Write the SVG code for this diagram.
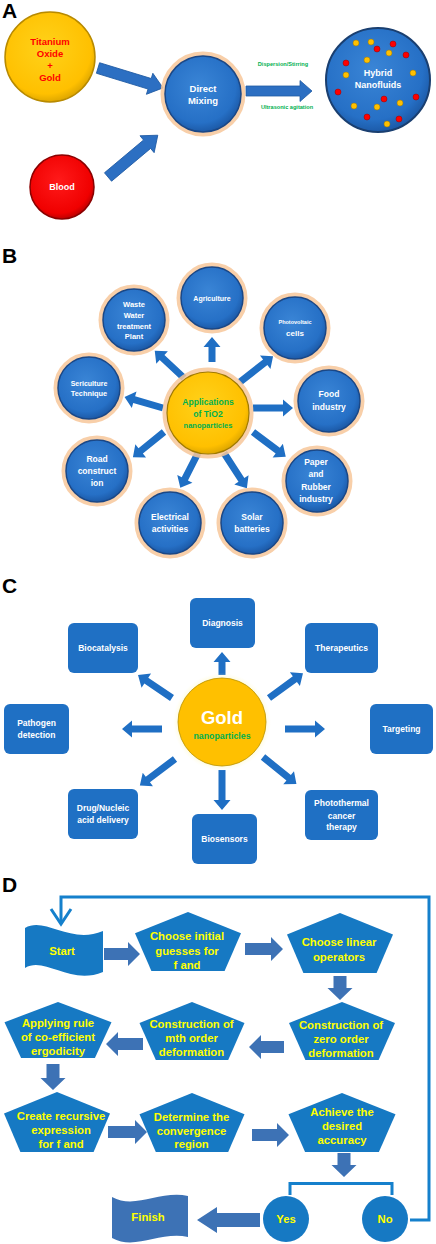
<svg xmlns="http://www.w3.org/2000/svg" width="436" height="1244" viewBox="0 0 436 1244">
<defs>
<radialGradient id="gBlue" cx="45%" cy="40%" r="60%"><stop offset="0" stop-color="#3a85d6"/><stop offset="0.8" stop-color="#2670c6"/><stop offset="1" stop-color="#1c5aa8"/></radialGradient>
<radialGradient id="gGold" cx="45%" cy="40%" r="60%"><stop offset="0" stop-color="#ffd21a"/><stop offset="0.85" stop-color="#ffc000"/><stop offset="1" stop-color="#e0a800"/></radialGradient>
<radialGradient id="gRed" cx="45%" cy="40%" r="60%"><stop offset="0" stop-color="#ff1a1a"/><stop offset="0.85" stop-color="#f00000"/><stop offset="1" stop-color="#c00000"/></radialGradient>
<radialGradient id="gHalo" cx="50%" cy="50%" r="50%"><stop offset="0.8" stop-color="#fff7a8"/><stop offset="1" stop-color="#fffbe0" stop-opacity="0"/></radialGradient>
</defs>
<style>
text{font-family:"Liberation Sans",Arial,sans-serif;font-weight:bold;text-anchor:middle}
.lbl{font-size:21px;text-anchor:start;fill:#000}
.bc{fill:url(#gBlue);stroke:#1a4786;stroke-width:1.5}
.glow{fill:none;stroke:#f7c79a;stroke-width:5;stroke-opacity:0.85}
.arA{fill:#2c6fc2;stroke:#1f5aa3;stroke-width:0.8}
.arB{fill:#1f6fc4}
.arD{fill:#3d72b5}
.box{fill:#1f70c4}
.pent{fill:#1679c3}
.wt{fill:#fff}
.gr{fill:#00b050}
.yl{fill:#ffff00;font-size:11.3px}
.yd{fill:#ffc000;stroke:#a07800;stroke-width:0.5}
.rd{fill:#ff0000;stroke:#900;stroke-width:0.5}
.fb{fill:none;stroke:#1580cc;stroke-width:3}
</style>

<!-- Section labels -->
<text class="lbl" x="2" y="18">A</text>
<text class="lbl" x="2" y="263">B</text>
<text class="lbl" x="2" y="593">C</text>
<text class="lbl" x="2" y="892">D</text>

<!-- ===== A ===== -->
<g id="connectorsA">
<path class="arA" transform="translate(98,68) rotate(17)" d="M0,-5.5 H54 V-11 L68,0 L54,11 V5.5 H0 Z"/>
<path class="arA" transform="translate(108,177) rotate(-40)" d="M0,-5.5 H51 V-11 L65,0 L51,11 V5.5 H0 Z"/>
<path class="arA" transform="translate(246,91)" d="M0,-5 H54 V-10.5 L66,0 L54,10.5 V5 H0 Z"/>
<text class="gr" x="283" y="66" font-size="5.6">Dispersion/Stirring</text>
<text class="gr" x="287" y="109" font-size="5.6">Ultrasonic agitation</text>
</g>
<g id="nodeTitanium">
<circle cx="50" cy="57" r="45" fill="url(#gGold)" stroke="#b88a00" stroke-width="1.5"/>
<g fill="#ff0000" font-size="9.5"><text x="50" y="44.5">Titanium</text><text x="50" y="56.5">Oxide</text><text x="50" y="68.5">+</text><text x="50" y="80.5">Gold</text></g>
</g>
<g id="nodeBlood">
<circle cx="62" cy="187" r="32" fill="url(#gRed)" stroke="#8a0000" stroke-width="1.5"/>
<text class="wt" x="62" y="190" font-size="9">Blood</text>
</g>
<g id="nodeMixing">
<circle class="glow" cx="203" cy="94" r="40"/>
<circle class="bc" cx="203" cy="94" r="38"/>
<text class="wt" x="203" y="91.5" font-size="9.5">Direct</text>
<text class="wt" x="203" y="103.5" font-size="9.5">Mixing</text>
</g>
<g id="nodeHybrid">
<circle cx="378" cy="80" r="52" fill="url(#gBlue)" stroke="#1a3f70" stroke-width="2"/>
<g>
<circle class="yd" cx="356" cy="43" r="3"/><circle class="yd" cx="371" cy="42" r="3"/><circle class="yd" cx="389" cy="53" r="3"/><circle class="yd" cx="367" cy="60" r="3"/><circle class="yd" cx="346" cy="75" r="3"/><circle class="yd" cx="413" cy="73" r="3"/><circle class="yd" cx="354" cy="106" r="3"/><circle class="yd" cx="377" cy="107" r="3"/><circle class="yd" cx="400" cy="103" r="3"/><circle class="yd" cx="387" cy="124" r="3"/>
<circle class="rd" cx="377" cy="49" r="3"/><circle class="rd" cx="393" cy="44" r="3"/><circle class="rd" cx="406" cy="55" r="3"/><circle class="rd" cx="346" cy="63" r="3"/><circle class="rd" cx="338" cy="92" r="3"/><circle class="rd" cx="416" cy="97" r="3"/><circle class="rd" cx="384" cy="99" r="3"/><circle class="rd" cx="367" cy="117" r="3"/><circle class="rd" cx="399" cy="119" r="3"/>
</g>
<text class="wt" x="378" y="76" font-size="9">Hybrid</text>
<text class="wt" x="378" y="88" font-size="9">Nanofluids</text>
</g>

<!-- ===== B ===== -->
<g id="connectorsB" class="arB">
<path transform="translate(212,362) rotate(-90)" d="M0,-3.5 H15 V-8.5 L25,0 L15,8.5 V3.5 H0 Z"/>
<path transform="translate(184,378) rotate(-137)" d="M0,-3.5 H30 V-8.5 L40,0 L30,8.5 V3.5 H0 Z"/>
<path transform="translate(240,382) rotate(-38)" d="M0,-3.5 H32 V-8.5 L42,0 L32,8.5 V3.5 H0 Z"/>
<path transform="translate(163,408) rotate(-164)" d="M0,-3.5 H30 V-8.5 L40,0 L30,8.5 V3.5 H0 Z"/>
<path transform="translate(253,408)" d="M0,-3.5 H30 V-8.5 L40,0 L30,8.5 V3.5 H0 Z"/>
<path transform="translate(164,432) rotate(141)" d="M0,-3.5 H30 V-8.5 L40,0 L30,8.5 V3.5 H0 Z"/>
<path transform="translate(253,432) rotate(37)" d="M0,-3.5 H31 V-8.5 L41,0 L31,8.5 V3.5 H0 Z"/>
<path transform="translate(198,453) rotate(117)" d="M0,-3.5 H29 V-8.5 L39,0 L29,8.5 V3.5 H0 Z"/>
<path transform="translate(224,453) rotate(57)" d="M0,-3.5 H32 V-8.5 L42,0 L32,8.5 V3.5 H0 Z"/>
</g>
<g id="nodeTiO2">
<circle class="glow" cx="208" cy="413" r="43"/>
<circle cx="208" cy="413" r="41" fill="url(#gGold)" stroke="#a07a00" stroke-width="1.2"/>
<text class="gr" x="208" y="405" font-size="8.6">Applications</text>
<text class="gr" x="208" y="416.5" font-size="8.6">of TiO2</text>
<text class="gr" x="208" y="427.5" font-size="7.5">nanoparticles</text>
</g>
<g id="nodeAgriculture"><circle class="glow" cx="212" cy="298" r="33"/><circle class="bc" cx="212" cy="298" r="31"/>
<text class="wt" x="212" y="300.5" font-size="7">Agriculture</text></g>
<g id="nodeWaste"><circle class="glow" cx="134" cy="320" r="33"/><circle class="bc" cx="134" cy="320" r="31"/>
<g class="wt" font-size="7.5"><text x="134" y="306.5">Waste</text><text x="134" y="317.5">Water</text><text x="134" y="328.5">treatment</text><text x="134" y="339">Plant</text></g></g>
<g id="nodePhotovoltaic"><circle class="glow" cx="295" cy="328" r="33"/><circle class="bc" cx="295" cy="328" r="31"/>
<text class="wt" x="295" y="324" font-size="5.5">Photovoltaic</text><text class="wt" x="295" y="336" font-size="8">cells</text></g>
<g id="nodeSericulture"><circle class="glow" cx="89" cy="388" r="33"/><circle class="bc" cx="89" cy="388" r="31"/>
<text class="wt" x="89" y="385.5" font-size="7">Sericulture</text><text class="wt" x="89" y="396" font-size="7.4">Technique</text></g>
<g id="nodeFood"><circle class="glow" cx="329" cy="401" r="33"/><circle class="bc" cx="329" cy="401" r="31"/>
<text class="wt" x="329" y="397" font-size="8.5">Food</text><text class="wt" x="329" y="410" font-size="8.5">industry</text></g>
<g id="nodeRoad"><circle class="glow" cx="97" cy="471" r="33"/><circle class="bc" cx="97" cy="471" r="31"/>
<g class="wt" font-size="8.5"><text x="97" y="462">Road</text><text x="97" y="474">construct</text><text x="97" y="486">ion</text></g></g>
<g id="nodePaper"><circle class="glow" cx="317" cy="481" r="33"/><circle class="bc" cx="317" cy="481" r="31"/>
<g class="wt" font-size="8.5"><text x="316" y="465">Paper</text><text x="316" y="477">and</text><text x="316" y="490">Rubber</text><text x="316" y="502">industry</text></g></g>
<g id="nodeElectrical"><circle class="glow" cx="170" cy="523" r="33"/><circle class="bc" cx="170" cy="523" r="31"/>
<g class="wt" font-size="8.5"><text x="170" y="520">Electrical</text><text x="170" y="532">activities</text></g></g>
<g id="nodeSolar"><circle class="glow" cx="252" cy="523" r="33"/><circle class="bc" cx="252" cy="523" r="31"/>
<g class="wt" font-size="8.5"><text x="252" y="520">Solar</text><text x="252" y="532">batteries</text></g></g>

<!-- ===== C ===== -->
<g id="connectorsC" class="arB">
<path transform="translate(222,675) rotate(-90)" d="M0,-3.5 H13 V-8.5 L23,0 L13,8.5 V3.5 H0 Z"/>
<path transform="translate(172,698) rotate(-146)" d="M0,-3.5 H31 V-8.5 L41,0 L31,8.5 V3.5 H0 Z"/>
<path transform="translate(269,698) rotate(-36)" d="M0,-3.5 H32 V-8.5 L42,0 L32,8.5 V3.5 H0 Z"/>
<path transform="translate(162,729) rotate(180)" d="M0,-3.5 H30 V-8.5 L40,0 L30,8.5 V3.5 H0 Z"/>
<path transform="translate(285,729)" d="M0,-3.5 H30 V-8.5 L40,0 L30,8.5 V3.5 H0 Z"/>
<path transform="translate(175,759) rotate(143)" d="M0,-3.5 H34 V-8.5 L44,0 L34,8.5 V3.5 H0 Z"/>
<path transform="translate(263,757) rotate(39)" d="M0,-3.5 H33 V-8.5 L43,0 L33,8.5 V3.5 H0 Z"/>
<path transform="translate(222,770) rotate(90)" d="M0,-3.5 H30 V-8.5 L40,0 L30,8.5 V3.5 H0 Z"/>
</g>
<g id="nodeGold">
<circle cx="222" cy="722" r="49" fill="url(#gHalo)"/>
<circle cx="222" cy="722" r="44" fill="#ffc000" stroke="#b89000" stroke-width="0.8"/>
<text class="wt" x="222" y="724" font-size="18.5">Gold</text>
<text class="gr" x="222" y="739" font-size="8.8">nanoparticles</text>
</g>
<g font-size="8.5">
<g id="nodeDiagnosis"><rect class="box" x="190" y="598" width="65" height="50" rx="6"/><text class="wt" x="222.5" y="626">Diagnosis</text></g>
<g id="nodeBiocatalysis"><rect class="box" x="68" y="623" width="70" height="50" rx="6"/><text class="wt" x="103" y="651">Biocatalysis</text></g>
<g id="nodeTherapeutics"><rect class="box" x="305" y="623" width="73" height="50" rx="6"/><text class="wt" x="341.5" y="651">Therapeutics</text></g>
<g id="nodePathogen"><rect class="box" x="4" y="704" width="65" height="50" rx="6"/><text class="wt" x="36.5" y="726">Pathogen</text><text class="wt" x="36.5" y="738">detection</text></g>
<g id="nodeTargeting"><rect class="box" x="370" y="704" width="63" height="50" rx="6"/><text class="wt" x="401.5" y="732">Targeting</text></g>
<g id="nodeDrug"><rect class="box" x="68" y="789" width="70" height="50" rx="6"/><text class="wt" x="103" y="811">Drug/Nucleic</text><text class="wt" x="103" y="823">acid delivery</text></g>
<g id="nodeBiosensors"><rect class="box" x="192" y="814" width="65" height="50" rx="6"/><text class="wt" x="224.5" y="842">Biosensors</text></g>
<g id="nodePhotothermal"><rect class="box" x="305" y="790" width="73" height="50" rx="6"/><text class="wt" x="341.5" y="806">Photothermal</text><text class="wt" x="341.5" y="819">cancer</text><text class="wt" x="341.5" y="830">therapy</text></g>
</g>

<!-- ===== D ===== -->
<g id="connectorsD">
<path class="fb" d="M410,1220 H429 V897 H61 V924"/>
<path class="fb" d="M51,909 L61,924 L71,909"/>
<path class="fb" d="M290,1195 V1183.5 H392 V1195"/>
<g class="arD">
<path transform="translate(104,954)" d="M0,-6 H24 V-12 L36,0 L24,12 V6 H0 Z"/>
<path transform="translate(245,949)" d="M0,-6 H26 V-12 L38,0 L26,12 V6 H0 Z"/>
<path transform="translate(340,976) rotate(90)" d="M0,-6.5 H12 V-12.5 L24,0 L12,12.5 V6.5 H0 Z"/>
<path transform="translate(284,1047) rotate(180)" d="M0,-6 H23 V-12 L35,0 L23,12 V6 H0 Z"/>
<path transform="translate(143,1044) rotate(180)" d="M0,-6 H25 V-12 L37,0 L25,12 V6 H0 Z"/>
<path transform="translate(53,1064) rotate(90)" d="M0,-6.5 H14 V-12.5 L26,0 L14,12.5 V6.5 H0 Z"/>
<path transform="translate(108,1132)" d="M0,-6 H27 V-12 L39,0 L27,12 V6 H0 Z"/>
<path transform="translate(252,1135)" d="M0,-6 H25 V-12 L37,0 L25,12 V6 H0 Z"/>
<path transform="translate(344,1153) rotate(90)" d="M0,-6.5 H12 V-12.5 L24,0 L12,12.5 V6.5 H0 Z"/>
<path transform="translate(260,1220) rotate(180)" d="M0,-7 H43 V-13 L63,0 L43,13 V7 H0 Z"/>
</g>
</g>
<g id="nodeStart">
<path class="pent" d="M25,928 C45,916 70,945 103,931 L103,972 C70,986 45,956 25,968 Z"/>
<text class="yl" x="62" y="955" font-size="12.5">Start</text>
</g>
<g id="nodeP1"><polygon class="pent" points="188,912 241,933.2 224.6,971 151.4,971 135,933.2"/>
<text class="yl" x="187" y="940">Choose initial</text><text class="yl" x="187" y="955">guesses for</text><text class="yl" x="187" y="969">f and</text></g>
<g id="nodeP2"><polygon class="pent" points="340,913 393,934.6 376.6,973 303.4,973 287,934.6"/>
<text class="yl" x="339" y="946">Choose linear</text><text class="yl" x="339" y="961">operators</text></g>
<g id="nodeP3"><polygon class="pent" points="342,1002 395,1022.9 378.6,1060 305.4,1060 289,1022.9"/>
<text class="yl" x="341" y="1029">Construction of</text><text class="yl" x="341" y="1043">zero order</text><text class="yl" x="341" y="1057">deformation</text></g>
<g id="nodeP4"><polygon class="pent" points="192,1002 244.5,1022.9 228.2,1060 155.8,1060 139.5,1022.9"/>
<text class="yl" x="191.5" y="1028">Construction of</text><text class="yl" x="191.5" y="1042">mth order</text><text class="yl" x="191.5" y="1056">deformation</text></g>
<g id="nodeP5"><polygon class="pent" points="58,1002 111.5,1022.2 94.9,1058 21.1,1058 4.5,1022.2"/>
<text class="yl" x="58" y="1027">Applying rule</text><text class="yl" x="58" y="1041">of co-efficient</text><text class="yl" x="58" y="1055">ergodicity</text></g>
<g id="nodeP6"><polygon class="pent" points="57,1092 110,1113.6 93.6,1152 20.4,1152 4,1113.6"/>
<text class="yl" x="61" y="1120">Create recursive</text><text class="yl" x="61" y="1134">expression</text><text class="yl" x="61" y="1148">for f and</text></g>
<g id="nodeP7"><polygon class="pent" points="192,1093 244.5,1114.2 228.2,1152 155.8,1152 139.5,1114.2"/>
<text class="yl" x="191.5" y="1121">Determine the</text><text class="yl" x="191.5" y="1135">convergence</text><text class="yl" x="191.5" y="1148">region</text></g>
<g id="nodeP8"><polygon class="pent" points="342,1093 395.5,1114.2 378.9,1152 305.1,1152 288.5,1114.2"/>
<text class="yl" x="342" y="1116">Achieve the</text><text class="yl" x="342" y="1130">desired</text><text class="yl" x="342" y="1144">accuracy</text></g>
<g id="nodeYes"><circle class="pent" cx="286" cy="1219" r="23"/><text class="yl" x="286" y="1223" font-size="11">Yes</text></g>
<g id="nodeNo"><circle class="pent" cx="385" cy="1219" r="23"/><text class="yl" x="385" y="1223" font-size="11">No</text></g>
<g id="nodeFinish">
<path class="arD" d="M112,1197 C135,1210 160,1190 188,1196 L188,1237 C160,1231 135,1251 112,1238 Z"/>
<text class="yl" x="148" y="1221" font-size="11.5">Finish</text>
</g>
</svg>
